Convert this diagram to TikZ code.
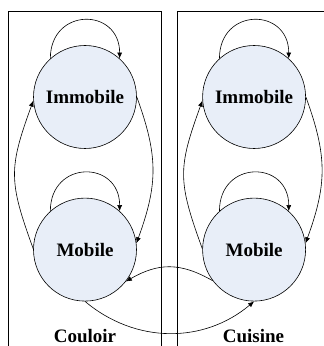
\documentclass[tikz,border=0pt]{standalone}
\usepackage{fontspec}
\setmainfont{Liberation Serif}
\usepackage{tikz}
\usetikzlibrary{arrows.meta, positioning}
\definecolor{statefill}{RGB}{232,238,248}
\tikzset{
  state/.style     = {circle, draw=black, line width=0.6pt, fill=statefill,
                      minimum size=103pt, inner sep=0pt,
                      font=\fontsize{19}{22}\selectfont\bfseries},
  zone/.style      = {draw=black, line width=0.8pt},
  zonelabel/.style = {font=\fontsize{19}{22}\selectfont\bfseries, anchor=base},
  arrow/.style     = {-{Latex[length=6pt, width=5pt]}, line width=0.6pt},
}
\begin{document}
\begin{tikzpicture}[x=1pt, y=1pt]
  \useasboundingbox (0,0) rectangle (324,346);

  % zones
  \draw[zone] (8,0) -- (8,335) -- (161,335) -- (161,0);
  \draw[zone] (177,0) -- (177,335) -- (324,335);
  \node[zonelabel] (couLbl) at (85,4) {Couloir};
  \node[zonelabel] (cuiLbl) at (253.5,4) {Cuisine};

  % states
  \node[state] (couImm) at (85,249) {Immobile};
  \node[state, below=49pt of couImm] (couMob) {Mobile};
  \node[state, right=65.5pt of couImm] (cuiImm) {Immobile};
  \node[state, below=49pt of cuiImm] (cuiMob) {Mobile};

  % self loops
  \draw[arrow] (couImm.132) to[out=90, in=90, looseness=1.9] (couImm.48);
  \draw[arrow] (couMob.132) to[out=90, in=90, looseness=1.9] (couMob.48);
  \draw[arrow] (cuiImm.132) to[out=90, in=90, looseness=1.9] (cuiImm.48);
  \draw[arrow] (cuiMob.132) to[out=90, in=90, looseness=1.9] (cuiMob.48);

  % inside each zone
  \draw[arrow] (couMob.179) to[out=110, in=250, looseness=1.25] (couImm.184);
  \draw[arrow] (couImm.0) to[out=-70, in=70, looseness=1.1] (couMob.7);
  \draw[arrow] (cuiMob.179) to[out=110, in=250, looseness=1.25] (cuiImm.184);
  \draw[arrow] (cuiImm.0) to[out=-70, in=70, looseness=1.1] (cuiMob.7);

  % between zones
  \draw[arrow] (couMob.-90) to[out=-40, in=220] (cuiMob.-90);
  \draw[arrow] (cuiMob.217) to[out=150, in=30, looseness=1.1] (couMob.-38);
\end{tikzpicture}
\end{document}
